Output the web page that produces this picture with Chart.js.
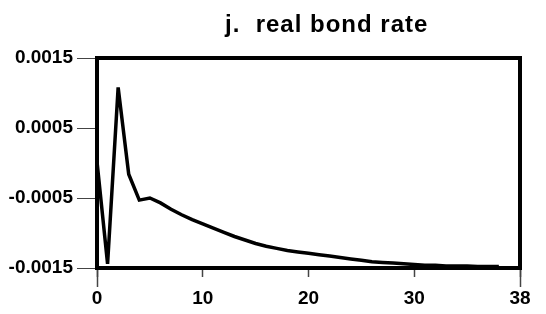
<!DOCTYPE html>
<html>
<head>
<meta charset="utf-8">
<script src="https://cdn.jsdelivr.net/npm/chart.js@4"></script>
<style>
  html, body { margin: 0; padding: 0; background: #fff; }
  #wrap { width: 546px; height: 314px; }
</style>
</head>
<body>
<div id="wrap"><canvas id="bondChart" width="546" height="314"></canvas></div>
<script>
  const periods = [0,1,2,3,4,5,6,7,8,9,10,11,12,13,14,15,16,17,18,19,
                   20,21,22,23,24,25,26,27,28,29,30,31,32,33,34,35,36,37,38];
  const realBondRate = [0.00002,-0.00144,0.00108,-0.00016,-0.00053,-0.00050,-0.00057,-0.00066,-0.00074,-0.00081,
                        -0.00087,-0.00093,-0.00099,-0.00105,-0.00110,-0.00115,-0.00119,-0.00122,-0.00125,-0.00127,
                        -0.00129,-0.00131,-0.00133,-0.00135,-0.00137,-0.00139,-0.00141,-0.00142,-0.00143,-0.00144,
                        -0.00145,-0.00146,-0.00146,-0.00147,-0.00147,-0.00147,-0.00148,-0.00148,-0.00148];
  const xTickValues = [0, 10, 20, 30, 40];
  const xTickLabels = ['0', '10', '20', '30', '38'];
  const yTickValues = [-0.0015, -0.0005, 0.0005, 0.0015];
  const yTickLabels = ['-0.0015', '-0.0005', '0.0005', '0.0015'];
  const chartTitle = 'j.  real bond rate';

  const FONT = '"Liberation Sans", Arial, sans-serif';

  // frame, long end ticks and title
  const framePlugin = {
    id: 'frame',
    afterDatasetsDraw(chart) {
      const { ctx, chartArea: a, scales } = chart;
      ctx.save();
      // longer ticks at both ends of x axis
      ctx.strokeStyle = '#444';
      ctx.lineWidth = 1.5;
      [xTickValues[0], xTickValues[xTickValues.length - 1]].forEach(v => {
        const px = Math.round(scales.x.getPixelForValue(v)) + 0.5;
        ctx.beginPath();
        ctx.moveTo(px, a.bottom);
        ctx.lineTo(px, a.bottom + 19);
        ctx.stroke();
      });
      ctx.strokeStyle = '#000';
      ctx.lineWidth = 4;
      ctx.strokeRect(a.left, a.top, a.right - a.left, a.bottom - a.top);
      ctx.fillStyle = '#000';
      ctx.font = 'bold 24px ' + FONT;
      ctx.textAlign = 'left';
      ctx.textBaseline = 'alphabetic';
      if ('letterSpacing' in ctx) ctx.letterSpacing = '1px';
      ctx.fillText(chartTitle, 225, 32);
      ctx.restore();
    }
  };

  const ctx = document.getElementById('bondChart').getContext('2d');

  const bondChart = new Chart(ctx, {
    type: 'line',
    data: {
      datasets: [{
        label: 'real bond rate',
        data: periods.map((p, i) => ({ x: p, y: realBondRate[i] })),
        borderColor: '#000',
        borderWidth: 3.5,
        pointRadius: 0,
        tension: 0,
        fill: false,
        clip: false
      }]
    },
    options: {
      responsive: false,
      animation: false,
      layout: { padding: { left: 0, right: 26, top: 58, bottom: 0 } },
      plugins: {
        legend: { display: false },
        tooltip: { enabled: false },
        title: { display: false }
      },
      scales: {
        x: {
          type: 'linear',
          min: 0,
          max: 40,
          afterBuildTicks: s => { s.ticks = xTickValues.map(v => ({ value: v })); },
          afterFit: s => { s.height = 46; },
          grid: { drawOnChartArea: false, tickLength: 9, tickColor: '#444', tickWidth: 1.5 },
          border: { display: false },
          ticks: {
            autoSkip: false,
            maxRotation: 0,
            padding: 10,
            color: '#000',
            font: { family: FONT, size: 19, weight: 'bold' },
            callback: (v, i) => xTickLabels[i]
          }
        },
        y: {
          min: -0.0015,
          max: 0.0015,
          afterBuildTicks: s => { s.ticks = yTickValues.map(v => ({ value: v })); },
          afterFit: s => { s.width = 97; },
          grid: { drawOnChartArea: false, tickLength: 20, tickColor: '#444', tickWidth: 1 },
          border: { display: false },
          ticks: {
            autoSkip: false,
            padding: 4,
            color: '#000',
            font: { family: FONT, size: 19, weight: 'bold' },
            callback: (v, i) => yTickLabels[i]
          }
        }
      }
    },
    plugins: [framePlugin]
  });
</script>
</body>
</html>
